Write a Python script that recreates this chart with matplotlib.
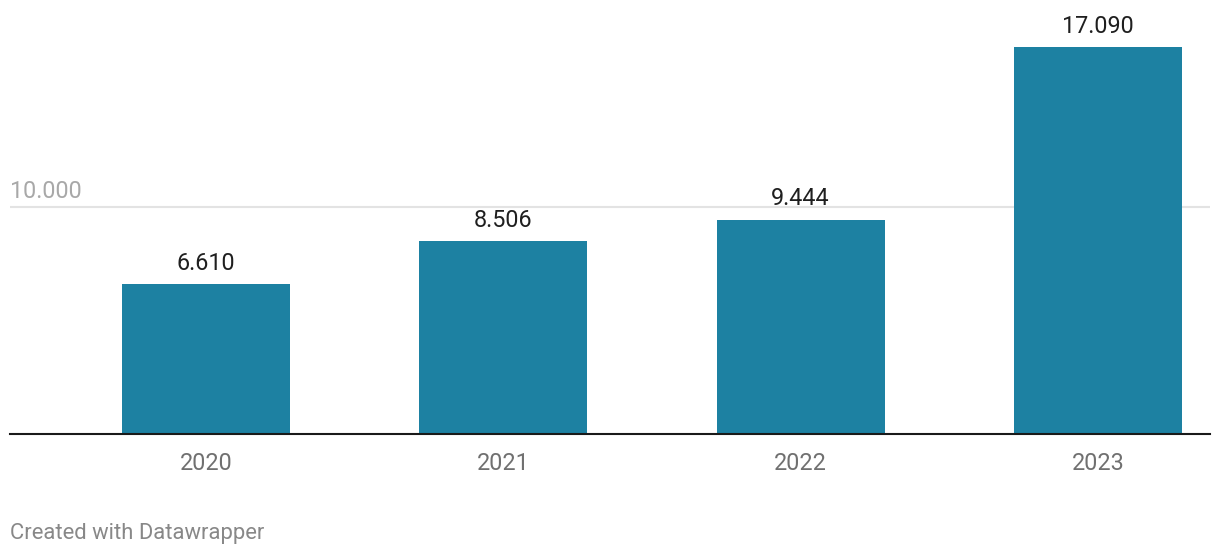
import matplotlib.pyplot as plt

years = ["2020", "2021", "2022", "2023"]
values = [6610, 8506, 9444, 17090]
labels = ["6.610", "8.506", "9.444", "17.090"]
grid_value = 10000
grid_label = "10.000"

plt.rcParams["font.family"] = ["Roboto", "DejaVu Sans"]

fig = plt.figure(figsize=(12.2, 5.56), dpi=100)
W, H = 1220, 556
ax = fig.add_axes([10 / W, (H - 433.5) / H, 1200 / W, 433.5 / H])

x = list(range(len(years)))
bars = ax.bar(x, values, width=0.565, color="#1d81a2", zorder=2)

ax.set_xlim(-0.659, 3.377)
ax.set_ylim(0, 19180)

# gridline + its label
ax.axhline(grid_value, color="#e3e3e3", lw=1.5, zorder=1)
ax.annotate(grid_label, xy=(0, grid_value), xycoords=("axes fraction", "data"),
            xytext=(0, 6.5), textcoords="offset points",
            ha="left", va="baseline", fontsize=16.8, color="#a8a8a8")

# value labels
for rect, lab in zip(bars, labels):
    ax.annotate(lab, xy=(rect.get_x() + rect.get_width() / 2, rect.get_height()),
                xytext=(0, 10.5), textcoords="offset points",
                ha="center", va="baseline", fontsize=16.8, color="#1f1f1f")

ax.axhline(0, color="#1a1a1a", lw=1.5, zorder=3, clip_on=False)

ax.set_xticks(x)
ax.set_xticklabels(years, fontsize=16.8, color="#707070")
ax.tick_params(axis="x", length=0, pad=13)
ax.set_yticks([])
for s in ax.spines.values():
    s.set_visible(False)

fig.text(10 / W, 1 - 533 / H, "Created with Datawrapper", ha="left", va="center",
         fontsize=15.8, color="#888888")

fig.savefig("out.png", dpi=100)
